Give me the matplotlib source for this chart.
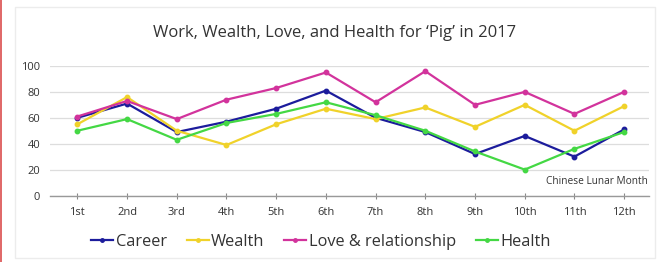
import matplotlib
matplotlib.use("Agg")
import matplotlib.pyplot as plt
from matplotlib.patches import Rectangle
from matplotlib.lines import Line2D

months = ["1st", "2nd", "3rd", "4th", "5th", "6th", "7th", "8th", "9th", "10th", "11th", "12th"]
career = [60, 71, 49, 57, 67, 81, 60, 49, 32, 46, 30, 51]
wealth = [55, 76, 50, 39, 55, 67, 59, 68, 53, 70, 50, 69]
love = [61, 73, 59, 74, 83, 95, 72, 96, 70, 80, 63, 80]
health = [50, 59, 43, 56, 63, 72, 62, 50, 34, 20, 36, 49]
series_names = ["Career", "Wealth", "Love & relationship", "Health"]
colors = ["#1c1c9c", "#f0d22a", "#d2339c", "#44d844"]

plt.rcParams['font.family'] = ['Open Sans', 'DejaVu Sans']

fig = plt.figure(figsize=(6.57, 2.62), dpi=100)
fig.patch.set_facecolor("white")

# outer decorations: red left bar and faint frame
fig.add_artist(Rectangle((0, 0), 2.0/657, 1, transform=fig.transFigure,
                         facecolor="#e06a6a", edgecolor="none"))
fig.add_artist(Rectangle((15/657, 4/262), 640/657, 251/262, transform=fig.transFigure,
                         facecolor="none", edgecolor="#ececec", lw=1.0))

ax = fig.add_axes([50/657, 1 - 195.5/262, 599/657, 129.5/262])
x = list(range(len(months)))
for vals, name, c in zip([career, wealth, love, health], series_names, colors):
    ax.plot(x, vals, color=c, lw=1.6, marker="o", ms=3.2, label=name)

ax.set_xlim(-0.55, 11.5)
ax.set_ylim(0, 100)
ax.set_yticks([0, 20, 40, 60, 80, 100])
ax.set_xticks(x)
ax.set_xticklabels(months)
ax.tick_params(axis="y", length=0, labelsize=8, colors="#333333", pad=7)
ax.tick_params(axis="x", length=4, direction="inout", color="#888888",
               labelsize=8, labelcolor="#333333", pad=6)
for s in ["top", "right", "left"]:
    ax.spines[s].set_visible(False)
ax.spines["bottom"].set_color("#999999")
ax.spines["bottom"].set_linewidth(1.0)
ax.grid(axis="y", color="#dddddd", lw=0.9)
ax.set_axisbelow(True)

ax.text(0.998, 0.11, "Chinese Lunar Month", transform=ax.transAxes, ha="right",
        va="center", fontsize=7.3, color="#333333")

fig.text(335/657, 1 - 33/262, "Work, Wealth, Love, and Health for \u2018Pig\u2019 in 2017",
         ha="center", va="center", fontsize=12, color="#333333")

handles = [Line2D([0], [0], color=c, lw=1.6, marker="o", ms=2.5) for c in colors]
fig.legend(handles, series_names, loc="center", bbox_to_anchor=(321/657, 1 - 242/262),
           ncol=4, frameon=False, fontsize=11.8, handlelength=1.35, handletextpad=0.15,
           columnspacing=1.2, labelcolor="#333333")

fig.savefig("out.png", dpi=100, facecolor="white")
